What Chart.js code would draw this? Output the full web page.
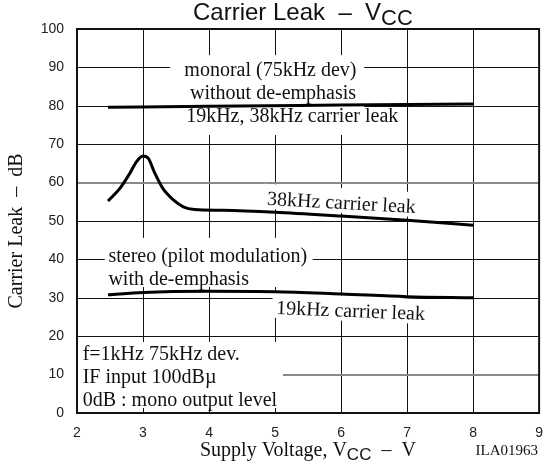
<!DOCTYPE html>
<html>
<head>
<meta charset="utf-8">
<title>Carrier Leak - VCC</title>
<script src="https://cdn.jsdelivr.net/npm/chart.js@4.4.1/dist/chart.umd.min.js"></script>
<style>
  html, body { margin:0; padding:0; background:#fff; }
  #wrap { position:relative; width:547px; height:463px; }
  #wrap canvas { position:absolute; left:0; top:0; }
</style>
</head>
<body>
<div id="wrap">
  <canvas id="grid" width="547" height="463"></canvas>
  <canvas id="chart" width="547" height="463"></canvas>
</div>
<script>
// supply voltage (V) vs carrier leak (dB), one pair of arrays per curve
const monoVolts = [2.47, 4, 6, 8];
const monoLeak  = [79.6, 79.9, 80.2, 80.5];

const leak38Volts = [2.47, 2.65, 2.8, 2.9, 3.0, 3.08, 3.18, 3.3, 3.46, 3.61, 3.78, 4.2, 5, 6, 7, 8];
const leak38      = [55.2, 58.5, 62.4, 65.4, 66.9, 66.3, 62.4, 58.5, 55.5, 53.7, 53.0, 52.8, 52.3, 51.3, 50.2, 48.9];

const leak19Volts = [2.47, 3, 4, 5, 6, 7, 8];
const leak19      = [30.8, 31.4, 31.7, 31.6, 31.0, 30.3, 30.0];

const xTicks = [2, 3, 4, 5, 6, 7, 8, 9];
const yTicks = [0, 10, 20, 30, 40, 50, 60, 70, 80, 90, 100];

const SERIF = '"Liberation Serif", "Times New Roman", serif';
const SANS  = '"Liberation Sans", Arial, sans-serif';
const NOTE_FONT = '20px ' + SERIF;

// notes placed in axis units (V, dB), baseline anchored; rot in degrees
const notes = [
  { text: 'monoral (75kHz dev)',        x: 4.93,  y: 87.76, align: 'center' },
  { text: 'without de-emphasis',        x: 4.97,  y: 81.77, align: 'center' },
  { text: '19kHz, 38kHz carrier leak',  x: 5.26,  y: 75.78, align: 'center' },
  { text: '38kHz carrier leak',         x: 6.0,   y: 53.13, align: 'center', rot: 3.2, box: true },
  { text: 'stereo (pilot modulation)',  x: 2.476, y: 39.32, align: 'left' },
  { text: 'with de-emphasis',           x: 2.476, y: 33.33, align: 'left' },
  { text: '19kHz carrier leak',         x: 6.14,  y: 25.0,  align: 'center', rot: 2.3, box: true },
  { text: 'f=1kHz 75kHz dev.',          x: 2.086, y: 13.8,  align: 'left' },
  { text: 'IF input 100dBµ',            x: 2.086, y: 7.81,  align: 'left' },
  { text: '0dB : mono output level',    x: 2.086, y: 1.95,  align: 'left' }
];

// gaps cut out of the grid behind the note blocks, [x0, x1, yTop, yBottom] in V / dB
const patches = [
  [3.41, 6.35, 93.2, 78.4],
  [3.59, 6.93, 78.4, 72.4],
  [2.42, 5.57, 45.6, 32.8],
  [2.0,  5.12, 18.5, 1.3]
];

const pts = (xs, ys) => xs.map((v, i) => ({ x: v, y: ys[i] }));

// moves ctx to a note's anchor and returns its left edge in the rotated frame
function placeNote(ctx, n, x, y) {
  ctx.translate(x.getPixelForValue(n.x), y.getPixelForValue(n.y));
  ctx.rotate((n.rot || 0) * Math.PI / 180);
  const w = ctx.measureText(n.text).width;
  return { left: n.align === 'center' ? -w / 2 : 0, w };
}

// the grid lives on the canvas underneath, laid out from the chart's own scales
const gridPlugin = {
  id: 'gridUnder',
  beforeDatasetsDraw(chart) {
    const { chartArea: a, scales: { x, y } } = chart;
    const g = document.getElementById('grid').getContext('2d');
    g.clearRect(0, 0, g.canvas.width, g.canvas.height);
    g.save();
    g.lineWidth = 1;
    g.strokeStyle = '#111';
    xTicks.slice(1, -1).forEach(v => {
      const px = Math.round(x.getPixelForValue(v)) + 0.5;
      g.beginPath(); g.moveTo(px, a.top); g.lineTo(px, a.bottom); g.stroke();
    });
    yTicks.slice(1, -1).forEach(v => {
      // 60 and 10 come out lighter and a bit wider
      const soft = v === 60 || v === 10;
      g.strokeStyle = soft ? '#8a8a8a' : '#111';
      g.lineWidth = soft ? 2 : 1;
      const py = Math.round(y.getPixelForValue(v)) + (soft ? 0 : 0.5);
      g.beginPath(); g.moveTo(a.left, py); g.lineTo(a.right, py); g.stroke();
    });

    // cut the gaps
    g.globalCompositeOperation = 'destination-out';
    g.fillStyle = '#000';
    patches.forEach(([x0, x1, y0, y1]) => {
      const l = x.getPixelForValue(x0), r = x.getPixelForValue(x1);
      const t = y.getPixelForValue(y0), b = y.getPixelForValue(y1);
      g.fillRect(l, t, r - l, b - t);
    });
    g.font = NOTE_FONT;
    notes.filter(n => n.box).forEach(n => {
      g.save();
      const { left, w } = placeNote(g, n, x, y);
      g.fillRect(left - 4, -21, w + 8, 25);
      g.restore();
    });
    g.restore();
  }
};

const notesPlugin = {
  id: 'notes',
  beforeDatasetsDraw(chart) {
    const { ctx, scales: { x, y } } = chart;
    ctx.save();
    ctx.font = NOTE_FONT;
    ctx.fillStyle = '#111';
    ctx.textBaseline = 'alphabetic';
    notes.forEach(n => {
      ctx.save();
      const { left } = placeNote(ctx, n, x, y);
      ctx.textAlign = 'left';
      ctx.fillText(n.text, left, 0);
      ctx.restore();
    });
    ctx.restore();
  }
};

// draws a run of [text, font, dy] pieces so "CC" can sit as a subscript
function drawRun(ctx, parts, x, y) {
  let cx = x;
  parts.forEach(([t, f, dy]) => {
    ctx.font = f;
    ctx.fillText(t, cx, y + dy);
    cx += ctx.measureText(t).width;
  });
}

const framePlugin = {
  id: 'frame',
  afterDraw(chart) {
    const { ctx, chartArea: a } = chart;
    ctx.save();
    ctx.strokeStyle = '#111';
    ctx.lineWidth = 2;
    ctx.strokeRect(a.left, a.top, a.right - a.left, a.bottom - a.top);

    ctx.fillStyle = '#111';
    ctx.textAlign = 'left';
    ctx.textBaseline = 'alphabetic';
    drawRun(ctx, [['Carrier Leak  –  V', '24px ' + SANS, 0], ['CC', '22px ' + SANS, 5]], 193, 20);
    drawRun(ctx, [['Supply Voltage, V', '20px ' + SERIF, 0], ['CC', '17px ' + SANS, 4], ['  –  V', '20px ' + SERIF, 0]], 200, 456);

    ctx.font = '15px ' + SERIF;
    ctx.textAlign = 'right';
    ctx.fillText('ILA01963', 538, 455);

    ctx.translate(17, 231);
    ctx.rotate(-Math.PI / 2);
    ctx.font = '20px ' + SERIF;
    ctx.textAlign = 'center';
    ctx.textBaseline = 'middle';
    ctx.fillText('Carrier Leak  –  dB', 0, 0);
    ctx.restore();
  }
};

const curve = data => ({
  data,
  borderColor: '#000',
  borderWidth: 3,
  pointRadius: 0,
  fill: false,
  cubicInterpolationMode: 'monotone'
});

new Chart(document.getElementById('chart'), {
  type: 'line',
  data: {
    datasets: [
      curve(pts(monoVolts, monoLeak)),
      curve(pts(leak38Volts, leak38)),
      curve(pts(leak19Volts, leak19))
    ]
  },
  options: {
    responsive: false,
    animation: false,
    events: [],
    layout: { padding: { top: 29, right: 7, left: 0, bottom: 0 } },
    plugins: { legend: { display: false }, tooltip: { enabled: false } },
    scales: {
      x: {
        type: 'linear',
        min: 2, max: 9,
        afterBuildTicks: s => { s.ticks = xTicks.map(v => ({ value: v })); },
        afterFit: s => { s.height = 50; },
        ticks: { color: '#222', font: { family: SANS, size: 14 }, padding: 4, maxRotation: 0 },
        grid: { display: false },
        border: { color: '#111', width: 2 }
      },
      y: {
        min: 0, max: 100,
        afterBuildTicks: s => { s.ticks = yTicks.map(v => ({ value: v })); },
        afterFit: s => { s.width = 77; },
        ticks: { color: '#222', font: { family: SANS, size: 14 }, padding: 5 },
        grid: { display: false },
        border: { color: '#111', width: 2 }
      }
    }
  },
  plugins: [gridPlugin, notesPlugin, framePlugin]
});
</script>
</body>
</html>
